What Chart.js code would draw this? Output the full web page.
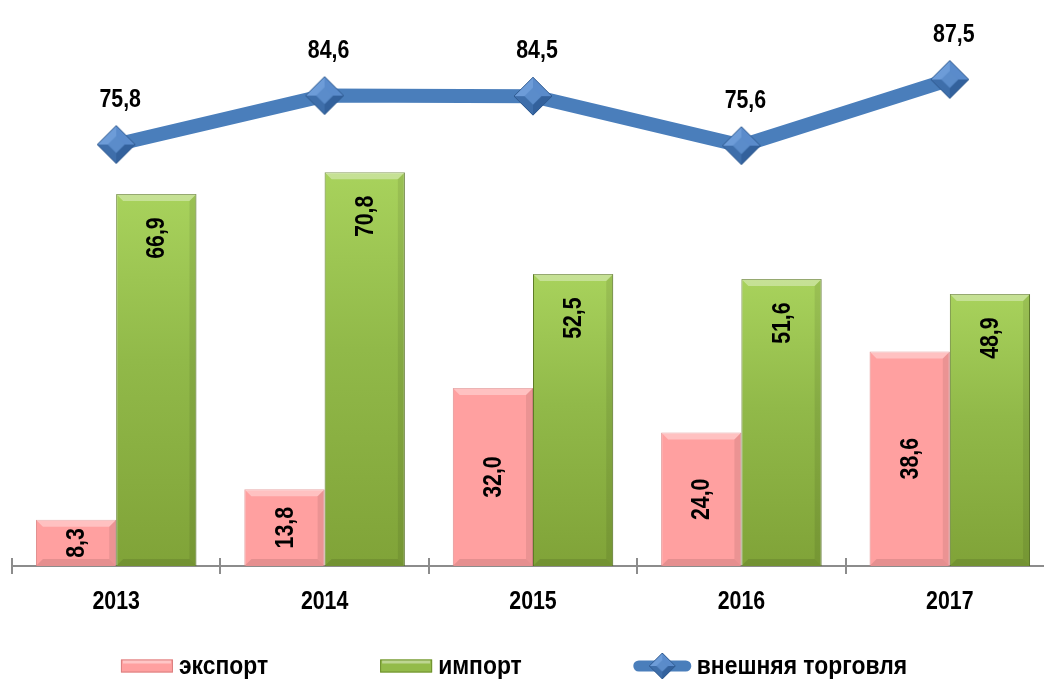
<!DOCTYPE html>
<html>
<head>
<meta charset="utf-8">
<script src="https://cdn.jsdelivr.net/npm/chart.js@4/dist/chart.umd.min.js"></script>
<style>
  html, body { margin: 0; padding: 0; background: #fff; overflow: hidden; }
  #wrap { width: 1044px; height: 682px; overflow: hidden; }
  #wrap div { width: 1054px; height: 682px; }
</style>
</head>
<body>
<div id="wrap"><div><canvas id="chart"></canvas></div></div>
<script>
// данные
const years = ['2013', '2014', '2015', '2016', '2017'];
const exportVals = [8.3, 13.8, 32.0, 24.0, 38.6];
const importVals = [66.9, 70.8, 52.5, 51.6, 48.9];
const tradeVals = [75.8, 84.6, 84.5, 75.6, 87.5];

const FONT = "bold 26px 'Liberation Sans', Arial, sans-serif";
const NARROW = 0.82; // имитация Arial Narrow
const fmt = v => v.toFixed(1).replace('.', ',');

// узкий текст с центром в (x, y)
function narrowText(ctx, txt, x, y, rot, k) {
    ctx.save();
    ctx.translate(x, y);
    if (rot) ctx.rotate(rot);
    ctx.scale(k || NARROW, 1);
    ctx.fillText(txt, 0, 0);
    ctx.restore();
}

// ромб-маркер с гранями
function makeDiamond(r) {
    const c = document.createElement('canvas');
    c.width = c.height = r * 2 + 2;
    const g = c.getContext('2d');
    const m = r + 1;
    const faces = [
        ['#6D9CD8', [m, m - r], [m - r, m]],
        ['#5A8BCB', [m, m - r], [m + r, m]],
        ['#3E6EAA', [m - r, m], [m, m + r]],
        ['#33619C', [m + r, m], [m, m + r]]
    ];
    faces.forEach(f => {
        g.fillStyle = f[0];
        g.beginPath();
        g.moveTo(m, m);
        g.lineTo(f[1][0], f[1][1]);
        g.lineTo(f[2][0], f[2][1]);
        g.closePath();
        g.fill();
    });
    g.fillStyle = '#5B8CCA';
    g.beginPath();
    const k = r * 0.45;
    g.moveTo(m, m - k); g.lineTo(m + k, m); g.lineTo(m, m + k); g.lineTo(m - k, m);
    g.closePath(); g.fill();
    g.strokeStyle = '#2F5A90';
    g.lineWidth = 1;
    g.beginPath();
    g.moveTo(m, m - r); g.lineTo(m + r, m); g.lineTo(m, m + r); g.lineTo(m - r, m);
    g.closePath(); g.stroke();
    return c;
}
const diamondBig = makeDiamond(19);
const diamondSmall = makeDiamond(13);

// градиент для столбцов импорта (светлый сверху, темнее снизу)
function greenFill(context) {
    const chart = context.chart;
    const y = chart.scales.y;
    if (!y || context.raw === undefined) return '#92BE4C';
    const top = y.getPixelForValue(context.raw);
    const bottom = y.getPixelForValue(0);
    if (!isFinite(top) || !isFinite(bottom) || top === bottom) return '#92BE4C';
    const g = chart.ctx.createLinearGradient(0, top, 0, bottom);
    g.addColorStop(0, '#A8D25C');
    g.addColorStop(0.45, '#91B949');
    g.addColorStop(1, '#80A338');
    return g;
}

// подписи значений
const labelsPlugin = {
    id: 'valueLabels',
    afterDatasetsDraw(chart) {
        const ctx = chart.ctx;
        ctx.save();
        ctx.font = FONT;
        ctx.fillStyle = '#000';
        ctx.textAlign = 'center';
        ctx.textBaseline = 'middle';
        chart.data.datasets.forEach((ds, i) => {
            const meta = chart.getDatasetMeta(i);
            meta.data.forEach((el, j) => {
                const txt = fmt(ds.data[j]);
                if (ds.type === 'line') {
                    narrowText(ctx, txt, el.x + 4, el.y - 45);
                } else {
                    const cy = i === 1 ? el.y + 44 : (el.y + el.base) / 2;
                    narrowText(ctx, txt, el.x + 1, cy, -Math.PI / 2);
                }
            });
        });
        ctx.restore();
    }
};

// фаска на столбцах
const bevelPlugin = {
    id: 'bevel',
    afterDatasetDraw(chart, args) {
        const meta = args.meta;
        if (meta.type !== 'bar') return;
        const ctx = chart.ctx;
        const b = 7;
        ctx.save();
        meta.data.forEach(el => {
            const l = el.x - el.width / 2, r = el.x + el.width / 2;
            const t = el.y, btm = el.base;
            ctx.fillStyle = 'rgba(255,255,255,0.35)';
            ctx.beginPath();
            ctx.moveTo(l, t); ctx.lineTo(r, t); ctx.lineTo(r - b, t + b); ctx.lineTo(l + b, t + b);
            ctx.closePath(); ctx.fill();
            ctx.fillStyle = 'rgba(0,0,0,0.10)';
            ctx.beginPath();
            ctx.moveTo(l, btm); ctx.lineTo(r, btm); ctx.lineTo(r - b, btm - b); ctx.lineTo(l + b, btm - b);
            ctx.closePath(); ctx.fill();
            ctx.fillStyle = 'rgba(0,0,0,0.08)';
            ctx.beginPath();
            ctx.moveTo(r, t); ctx.lineTo(r, btm); ctx.lineTo(r - b, btm - b); ctx.lineTo(r - b, t + b);
            ctx.closePath(); ctx.fill();
        });
        ctx.restore();
    }
};

// подписи оси, засечки над осью и легенда
const axisLegendPlugin = {
    id: 'axisLegend',
    afterDraw(chart) {
        const ctx = chart.ctx;
        const x = chart.scales.x;
        const n = years.length;
        const step = (x.right - x.left) / n;
        ctx.save();
        ctx.strokeStyle = '#8C8C8C';
        ctx.lineWidth = 2;
        for (let i = 0; i <= n; i++) {
            const px = Math.round(x.left + i * step);
            ctx.beginPath();
            ctx.moveTo(px, x.top - 8);
            ctx.lineTo(px, x.top);
            ctx.stroke();
        }

        ctx.font = FONT;
        ctx.fillStyle = '#000';
        ctx.textAlign = 'center';
        ctx.textBaseline = 'middle';
        years.forEach((yr, i) => {
            narrowText(ctx, yr, x.getPixelForValue(i), x.top + 36);
        });

        // легенда
        const cy = 666;
        const LK = 0.88;
        const items = chart.data.datasets.map(ds => ({
            label: ds.label,
            type: ds.type,
            sym: ds.type === 'line' ? 57 : 52
        }));
        const gap = 112, sp = 6;
        let total = 0;
        items.forEach(it => {
            it.tw = ctx.measureText(it.label).width * LK;
            it.w = it.sym + sp + it.tw;
            total += it.w;
        });
        total += gap * (items.length - 1);
        let cx = 514 - total / 2;
        items.forEach((it, i) => {
            if (it.type === 'line') {
                ctx.strokeStyle = '#4A7EBB';
                ctx.lineWidth = 11;
                ctx.lineCap = 'round';
                ctx.beginPath();
                ctx.moveTo(cx + 5, cy); ctx.lineTo(cx + it.sym - 5, cy);
                ctx.stroke();
                ctx.drawImage(diamondSmall, cx + it.sym / 2 - diamondSmall.width / 2, cy - diamondSmall.height / 2);
            } else {
                const h = 13;
                if (i === 0) { ctx.fillStyle = '#FFA0A0'; ctx.strokeStyle = '#D98080'; }
                else { ctx.fillStyle = '#93BB4A'; ctx.strokeStyle = '#6E8F2E'; }
                ctx.lineWidth = 1;
                ctx.fillRect(cx, cy - h / 2, it.sym, h);
                ctx.strokeRect(cx + 0.5, cy - h / 2 + 0.5, it.sym - 1, h - 1);
                ctx.fillStyle = 'rgba(255,255,255,0.4)';
                ctx.fillRect(cx + 2, cy - h / 2 + 1, it.sym - 4, 3);
            }
            ctx.fillStyle = '#000';
            narrowText(ctx, it.label, cx + it.sym + sp + it.tw / 2, cy + 1, 0, LK);
            cx += it.w + gap;
        });
        ctx.restore();
    }
};

new Chart(document.getElementById('chart'), {
    data: {
        labels: years,
        datasets: [
            {
                type: 'bar',
                label: 'экспорт',
                data: exportVals,
                backgroundColor: '#FFA0A0',
                borderColor: '#E08C8C',
                borderWidth: 1,
                categoryPercentage: 0.77,
                barPercentage: 1.0,
                order: 2
            },
            {
                type: 'bar',
                label: 'импорт',
                data: importVals,
                backgroundColor: greenFill,
                borderColor: '#5E7C26',
                borderWidth: 1,
                categoryPercentage: 0.77,
                barPercentage: 1.0,
                order: 2
            },
            {
                type: 'line',
                label: 'внешняя торговля',
                data: tradeVals,
                borderColor: '#4A7EBB',
                borderWidth: 14,
                pointStyle: diamondBig,
                pointRadius: 19,
                tension: 0,
                order: 1
            }
        ]
    },
    options: {
        responsive: true,
        maintainAspectRatio: false,
        animation: false,
        layout: { autoPadding: false, padding: { top: 10, left: 12, right: 0, bottom: 108 } },
        plugins: {
            legend: { display: false },
            tooltip: { enabled: false }
        },
        scales: {
            x: {
                offset: true,
                grid: {
                    offset: true,
                    drawOnChartArea: false,
                    tickLength: 8,
                    color: '#8C8C8C',
                    lineWidth: 2
                },
                border: { color: '#8C8C8C', width: 2 },
                ticks: { display: false }
            },
            y: {
                display: false,
                min: 0,
                max: 100
            }
        }
    },
    plugins: [bevelPlugin, labelsPlugin, axisLegendPlugin]
});
</script>
</body>
</html>
